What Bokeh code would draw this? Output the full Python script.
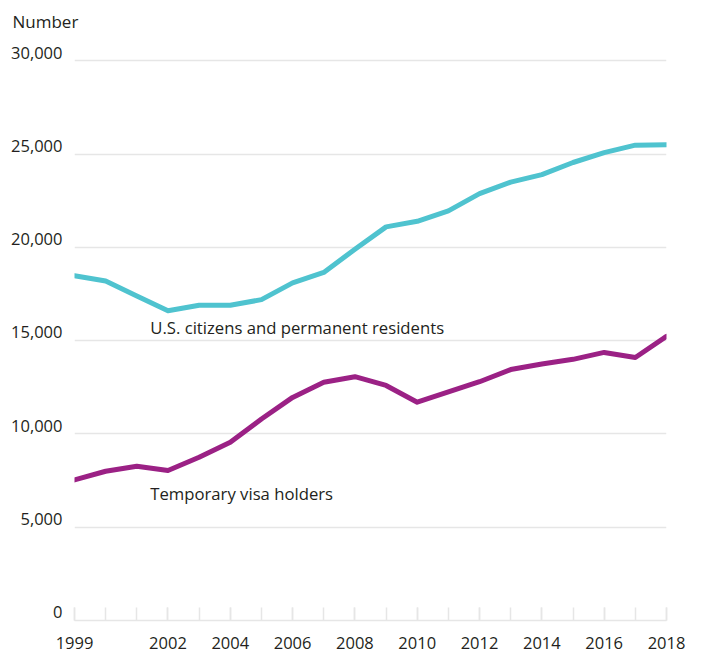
from bokeh.plotting import figure
from bokeh.models import FixedTicker, Range1d, Label, LinearAxis, CustomJSTickFormatter, Title
from bokeh.embed import file_html
from bokeh.resources import INLINE

years = list(range(1999, 2019))
citizens = [18480, 18200, 17400, 16600, 16900, 16900, 17200, 18100, 18660, 19900,
            21100, 21400, 21960, 22880, 23500, 23900, 24550, 25080, 25480, 25500]
visa = [7540, 8000, 8270, 8040, 8750, 9550, 10800, 11960, 12770, 13070,
        12600, 11700, 12250, 12800, 13450, 13750, 14000, 14370, 14100, 15230]
y_ticks = [0, 5000, 10000, 15000, 20000, 25000, 30000]
x_label_years = [1999, 2002, 2004, 2006, 2008, 2010, 2012, 2014, 2016, 2018]

FONT = "Open Sans"
TXT = "#231f20"
GRID = "#e6e6e6"
Y_MAX = 30500       # a little headroom above the 30,000 gridline
LABEL_LIFT = 440    # y-label text sits just above its gridline (data units of lift)

p = figure(width=690, height=652, title=None,
           min_border_left=74, min_border_right=24, min_border_top=51, min_border_bottom=32,
           output_backend="svg", toolbar_location=None, y_axis_location=None)
p.x_range = Range1d(years[0], years[-1])
p.y_range = Range1d(0, Y_MAX)

spacer = Title(text=" ", text_font_size="1px", standoff=16)
number = Title(text="Number", text_font=FONT, text_font_size="17px", text_font_style="normal",
               text_color=TXT, align="left", vertical_align="bottom", offset=-62, standoff=0)
p.add_layout(spacer, "above")
p.add_layout(number, "above")

p.outline_line_color = None
p.background_fill_color = "white"
p.border_fill_color = "white"

p.xgrid.grid_line_color = None
p.ygrid.grid_line_color = GRID
p.ygrid.grid_line_width = 1.5
p.ygrid.ticker = FixedTicker(ticks=y_ticks)

p.extra_y_ranges = {"lab": Range1d(-LABEL_LIFT, Y_MAX - LABEL_LIFT)}
yax = LinearAxis(y_range_name="lab", ticker=FixedTicker(ticks=y_ticks),
                 formatter=CustomJSTickFormatter(code="return tick.toLocaleString('en-US');"))
yax.axis_line_color = None
yax.major_tick_line_color = None
yax.minor_tick_line_color = None
yax.major_label_standoff = 6
yax.major_label_text_font = FONT
yax.major_label_text_font_size = "16.5px"
yax.major_label_text_color = TXT
p.add_layout(yax, "left")

p.xaxis.ticker = FixedTicker(ticks=x_label_years, minor_ticks=years)
p.xaxis.axis_line_color = GRID
p.xaxis.axis_line_width = 1.5
p.xaxis.major_tick_line_color = GRID
p.xaxis.major_tick_line_width = 1.5
p.xaxis.major_tick_in = 13
p.xaxis.major_tick_out = 0
p.xaxis.minor_tick_line_color = GRID
p.xaxis.minor_tick_line_width = 1.5
p.xaxis.minor_tick_in = 13
p.xaxis.minor_tick_out = 0
p.xaxis.major_label_standoff = 16
p.xaxis.major_label_text_font = FONT
p.xaxis.major_label_text_font_size = "16.5px"
p.xaxis.major_label_text_color = TXT

p.line(years, citizens, line_color="#4fc3cf", line_width=5, line_cap="round", line_join="round")
p.line(years, visa, line_color="#9b2185", line_width=5, line_cap="round", line_join="round")

p.add_layout(Label(x=2001.43, y=15680, text="U.S. citizens and permanent residents",
                   text_font=FONT, text_font_size="16.7px", text_color=TXT,
                   text_baseline="middle"))
p.add_layout(Label(x=2001.43, y=6820, text="Temporary visa holders",
                   text_font=FONT, text_font_size="16.7px", text_color=TXT,
                   text_baseline="middle"))

open("out.html", "w").write(file_html(p, INLINE))
